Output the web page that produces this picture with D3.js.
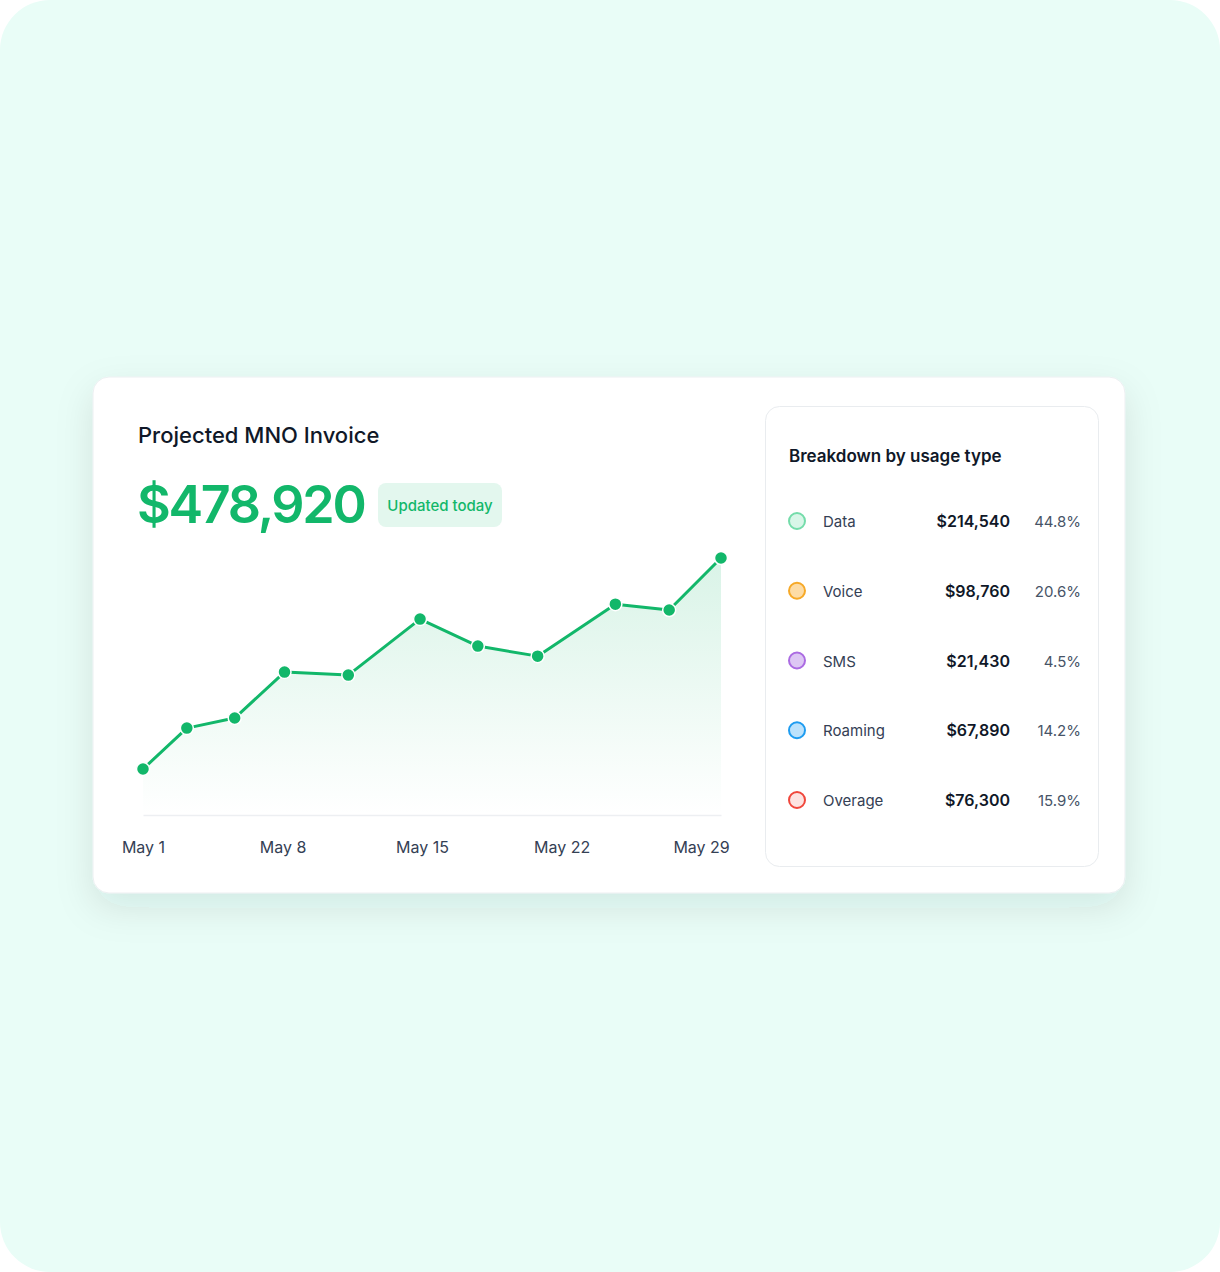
<!DOCTYPE html>
<html><head><meta charset="utf-8">
<script src="https://cdn.jsdelivr.net/npm/d3@7"></script>
<style>
html,body{margin:0;padding:0;background:#fff;}
svg{display:block;font-family:Inter,"Noto Sans",sans-serif;}
</style></head>
<body>
<svg id="chart" width="1220" height="1272"></svg>
<script>
// ---- data ----
const days = [1, 3.2, 5.6, 8.1, 11.3, 14.9, 17.8, 20.8, 24.7, 27.4, 30];
const invoiceK = [332.0, 360.5, 367.5, 399.5, 397.4, 436.4, 417.6, 410.6, 446.8, 442.7, 478.92];
const tickDays = [1, 8, 15, 22, 29];
const tickLabels = ["May 1", "May 8", "May 15", "May 22", "May 29"];
const categories = ["Data", "Voice", "SMS", "Roaming", "Overage"];
const amounts = [214540, 98760, 21430, 67890, 76300];
const shares = [44.8, 20.6, 4.5, 14.2, 15.9];
const strokeColors = ["#74DCAA", "#F6A928", "#AB6BE2", "#1E9CF0", "#F0473C"];
const fillColors = ["#D8F6E8", "#FDDCA6", "#DDC7F4", "#BCE2FC", "#FDE3E1"];
const title = "Projected MNO Invoice";
const total = 478920;
const badge = "Updated today";
const panelTitle = "Breakdown by usage type";

const svg = d3.select("#chart");
const defs = svg.append("defs");

// page background
svg.append("rect").attr("x",0).attr("y",0).attr("width",1220).attr("height",1272)
  .attr("rx",50).attr("fill","#E9FDF7");

// shadow filter
const f = defs.append("filter").attr("id","shadow").attr("x","-20%").attr("y","-20%").attr("width","140%").attr("height","150%");
f.append("feDropShadow").attr("dx",0).attr("dy",14).attr("stdDeviation",18)
  .attr("flood-color","#0b3d2a").attr("flood-opacity",0.10);

// card
svg.append("rect").attr("x",93).attr("y",377).attr("width",1032).attr("height",516)
  .attr("rx",16).attr("fill","#ffffff").attr("stroke","#eceff1").attr("stroke-width",1)
  .attr("filter","url(#shadow)");

// title and total
svg.append("text").attr("x",138).attr("y",443).attr("font-size",22).attr("font-weight",500)
  .attr("fill","#101828").text(title);
svg.append("text").attr("x",137).attr("y",523).attr("font-size",52).attr("font-weight",600)
  .attr("fill","#12B76A").attr("letter-spacing","-2.3").text(d3.format("$,")(total));
svg.append("rect").attr("x",378).attr("y",483).attr("width",124).attr("height",44).attr("rx",8)
  .attr("fill","#E3F7EE");
svg.append("text").attr("x",440).attr("y",511).attr("text-anchor","middle").attr("font-size",15)
  .attr("font-weight",500).attr("fill","#12B76A").text(badge);

// scales
const x = d3.scaleLinear().domain([1, 30]).range([143, 721]);
const y = d3.scaleLinear().domain([300, 478.92]).range([815, 558]);
const pts = days.map((d,i)=>({d, v: invoiceK[i]}));

const grad = defs.append("linearGradient").attr("id","areaGrad")
  .attr("gradientUnits","userSpaceOnUse").attr("x1",0).attr("y1",y.range()[1]).attr("x2",0).attr("y2",y.range()[0]);
grad.append("stop").attr("offset","0%").attr("stop-color","#12B76A").attr("stop-opacity",0.16);
grad.append("stop").attr("offset","100%").attr("stop-color","#12B76A").attr("stop-opacity",0);

svg.append("path").datum(pts)
  .attr("d", d3.area().x(p=>x(p.d)).y0(y(300)).y1(p=>y(p.v)))
  .attr("fill","url(#areaGrad)");

// axis
const axis = svg.append("g").attr("transform",`translate(0,${y(300)})`)
  .call(d3.axisBottom(x).tickValues(tickDays).tickFormat((d,i)=>tickLabels[i]).tickSize(0).tickPadding(27));
axis.select(".domain").attr("stroke","#EDEFF2").attr("stroke-width",1.5);
axis.selectAll(".tick text").attr("font-size",16).attr("fill","#344054")
  .attr("font-family","Inter, 'Noto Sans', sans-serif");

svg.append("path").datum(pts)
  .attr("d", d3.line().x(p=>x(p.d)).y(p=>y(p.v)))
  .attr("fill","none").attr("stroke","#12B76A").attr("stroke-width",3).attr("stroke-linejoin","round");

svg.selectAll("circle.pt").data(pts).join("circle").attr("class","pt")
  .attr("cx",p=>x(p.d)).attr("cy",p=>y(p.v)).attr("r",6.5)
  .attr("fill","#12B76A").attr("stroke","#ffffff").attr("stroke-width",1.5);

// right panel
svg.append("rect").attr("x",765.5).attr("y",406.5).attr("width",333).attr("height",460).attr("rx",14)
  .attr("fill","#ffffff").attr("stroke","#E9ECEF").attr("stroke-width",1);
svg.append("text").attr("x",789).attr("y",462).attr("font-size",17).attr("font-weight",600)
  .attr("fill","#101828").text(panelTitle);

const rowY = d3.scalePoint().domain(categories).range([521, 800]);
const rows = svg.selectAll("g.row").data(categories).join("g").attr("class","row")
  .attr("transform",c=>`translate(0,${rowY(c)})`);
rows.append("circle").attr("cx",797).attr("cy",0).attr("r",8)
  .attr("fill",(c,i)=>fillColors[i]).attr("stroke",(c,i)=>strokeColors[i]).attr("stroke-width",2);
rows.append("text").attr("x",823).attr("y",6).attr("font-size",15).attr("fill","#344054").text(c=>c);
rows.append("text").attr("x",1010).attr("y",6).attr("text-anchor","end").attr("font-size",16)
  .attr("font-weight",600).attr("fill","#101828").text((c,i)=>d3.format("$,")(amounts[i]));
rows.append("text").attr("x",1081).attr("y",6).attr("text-anchor","end").attr("font-size",15)
  .attr("fill","#475467").text((c,i)=>shares[i].toFixed(1)+"%");
</script>
</body></html>
